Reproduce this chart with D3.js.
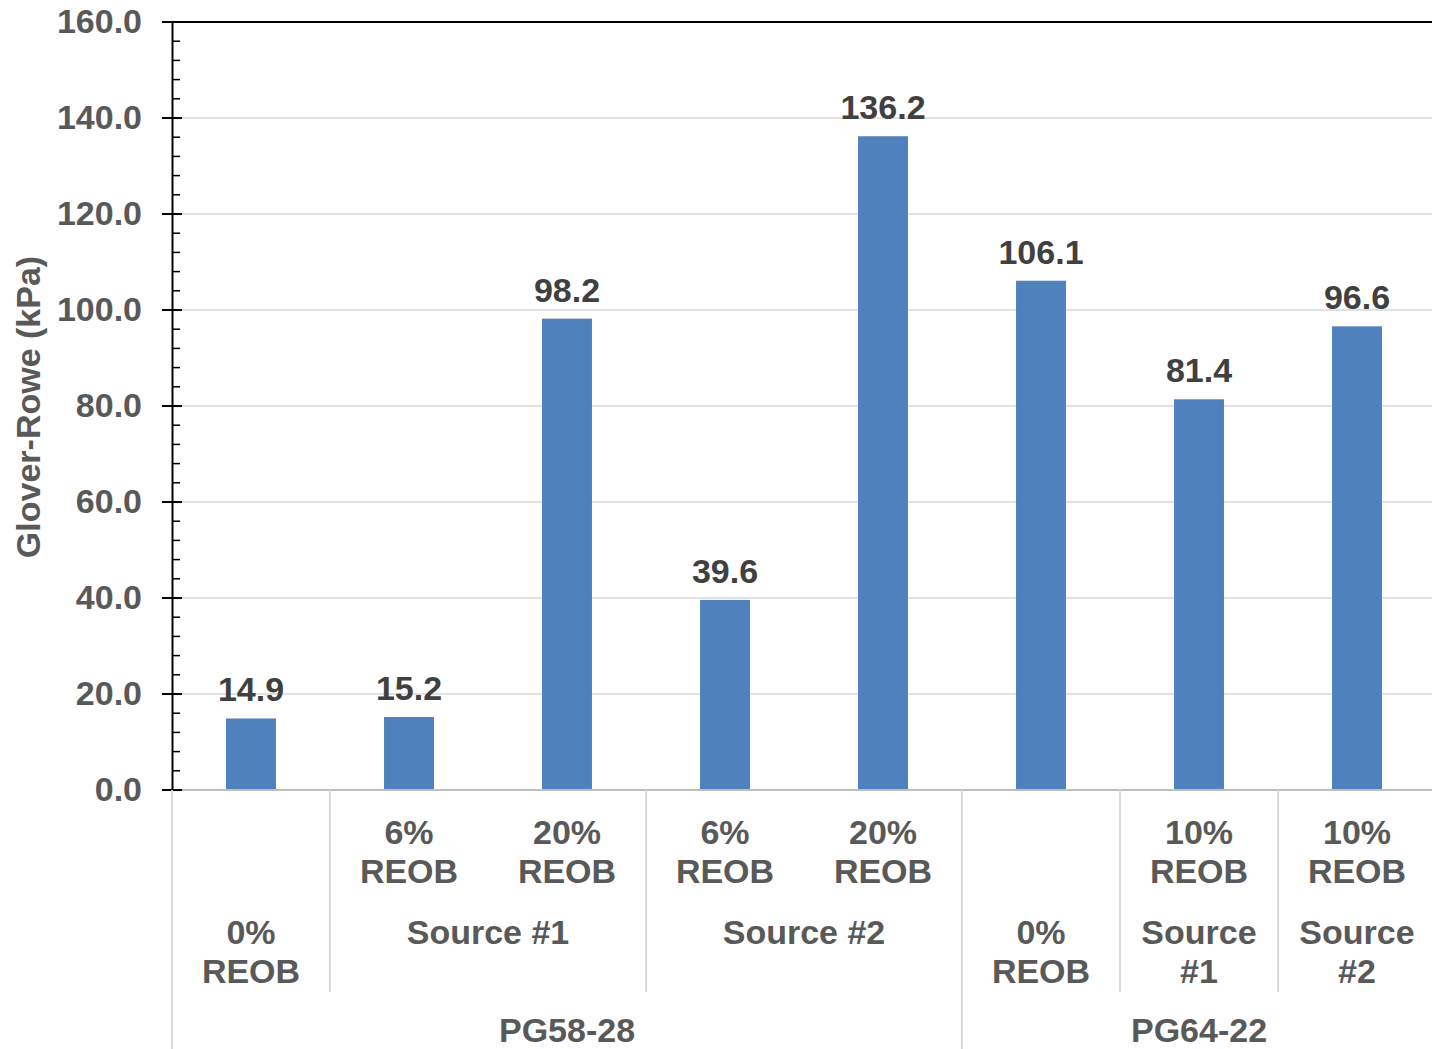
<!DOCTYPE html>
<html>
<head>
<meta charset="utf-8">
<script src="https://cdn.jsdelivr.net/npm/d3@7"></script>
<style>
  html, body { margin: 0; padding: 0; background: #fff; }
  svg { display: block; }
  text { font-family: "Liberation Sans", Arial, sans-serif; font-weight: bold; }
</style>
</head>
<body>
<svg id="chart" width="1432" height="1049"></svg>
<script>
// ---- Data ----
const values = [14.9, 15.2, 98.2, 39.6, 136.2, 106.1, 81.4, 96.6];
const leafLabels = [["", ""], ["6%", "REOB"], ["20%", "REOB"], ["6%", "REOB"], ["20%", "REOB"], ["", ""], ["10%", "REOB"], ["10%", "REOB"]];
const level2Labels = [["0%", "REOB"], ["Source #1"], ["Source #2"], ["0%", "REOB"], ["Source", "#1"], ["Source", "#2"]];
const level2Start = [0, 1, 3, 5, 6, 7];
const level2Span = [1, 2, 2, 1, 1, 1];
const level3Labels = ["PG58-28", "PG64-22"];
const level3Start = [0, 5];
const level3Span = [5, 3];
const yTicks = [0, 20, 40, 60, 80, 100, 120, 140, 160];
const yTitle = "Glover-Rowe (kPa)";

(function () {
// ---- Layout ----
const W = 1432, H = 1049;
const mLeft = 172, mRight = 1436, mTop = 22, mBottom = 790;
const svg = d3.select("#chart");

const x = d3.scaleBand().domain(d3.range(values.length)).range([mLeft, mRight]).padding(0);
const y = d3.scaleLinear().domain([0, 160]).range([mBottom, mTop]);
const step = x.step();
const barW = step * 0.316;
const fs = 34;

// gridlines
svg.append("g").selectAll("line").data(yTicks.filter(d => d > 0 && d < 160)).join("line")
  .attr("x1", mLeft).attr("x2", W).attr("y1", d => y(d)).attr("y2", d => y(d))
  .attr("stroke", "#d9d9d9").attr("stroke-width", 1.3);

// top border
svg.append("line").attr("x1", mLeft - 10).attr("x2", W).attr("y1", y(160)).attr("y2", y(160))
  .attr("stroke", "#000").attr("stroke-width", 2);

// bars
svg.append("g").selectAll("rect").data(values).join("rect")
  .attr("x", (d, i) => x(i) + (step - barW) / 2)
  .attr("width", barW)
  .attr("y", d => y(d))
  .attr("height", d => y(0) - y(d))
  .attr("fill", "#4f81bd");

// data labels
svg.append("g").selectAll("text").data(values).join("text")
  .attr("x", (d, i) => x(i) + step / 2)
  .attr("y", d => y(d) - 17)
  .attr("text-anchor", "middle")
  .attr("font-size", fs)
  .attr("fill", "#404040")
  .text(d => d.toFixed(1));

// baseline
svg.append("line").attr("x1", mLeft).attr("x2", W).attr("y1", y(0)).attr("y2", y(0))
  .attr("stroke", "#bfbfbf").attr("stroke-width", 2);

// y axis
const yAxis = d3.axisLeft(y).tickValues(yTicks).tickFormat(d3.format(".1f")).tickSize(0).tickPadding(30);
const ga = svg.append("g").attr("transform", `translate(${mLeft},0)`).call(yAxis);
ga.select(".domain").attr("stroke", "#000").attr("stroke-width", 2);
ga.selectAll("text").attr("font-size", fs).attr("fill", "#595959")
  .attr("font-family", "'Liberation Sans', Arial, sans-serif").attr("font-weight", "bold");
// major ticks (cross)
svg.append("g").selectAll("line").data(yTicks).join("line")
  .attr("x1", mLeft - 10).attr("x2", mLeft + 10).attr("y1", d => y(d)).attr("y2", d => y(d))
  .attr("stroke", "#000").attr("stroke-width", 2);
// minor ticks (inside)
const minor = d3.range(0, 161, 4).filter(v => v % 20 !== 0);
svg.append("g").selectAll("line").data(minor).join("line")
  .attr("x1", mLeft).attr("x2", mLeft + 8).attr("y1", d => y(d)).attr("y2", d => y(d))
  .attr("stroke", "#000").attr("stroke-width", 1.5);

// y title
svg.append("text")
  .attr("transform", `translate(40,407) rotate(-90)`)
  .attr("text-anchor", "middle")
  .attr("font-size", fs)
  .attr("fill", "#595959")
  .text(yTitle);

// ---- Hierarchical category axis ----
const sepColor = "#d9d9d9";
level2Start.forEach((s, k) => {
  if (k === 0 || level3Start.includes(s)) return;
  svg.append("line").attr("x1", x(s)).attr("x2", x(s)).attr("y1", mBottom).attr("y2", 992)
    .attr("stroke", sepColor).attr("stroke-width", 2);
});
level3Start.forEach(s => {
  svg.append("line").attr("x1", x(s)).attr("x2", x(s)).attr("y1", mBottom).attr("y2", H)
    .attr("stroke", sepColor).attr("stroke-width", 2);
});

const catColor = "#595959";
leafLabels.forEach((lines, i) => {
  lines.forEach((t, j) => {
    if (!t) return;
    svg.append("text").attr("x", x(i) + step / 2).attr("y", 844 + j * 39)
      .attr("text-anchor", "middle").attr("font-size", fs).attr("fill", catColor).text(t);
  });
});
level2Labels.forEach((lines, k) => {
  const cx = x(level2Start[k]) + level2Span[k] * step / 2;
  lines.forEach((t, j) => {
    svg.append("text").attr("x", cx).attr("y", 944 + j * 39)
      .attr("text-anchor", "middle").attr("font-size", fs).attr("fill", catColor).text(t);
  });
});
level3Labels.forEach((t, k) => {
  const cx = x(level3Start[k]) + level3Span[k] * step / 2;
  svg.append("text").attr("x", cx).attr("y", 1042)
    .attr("text-anchor", "middle").attr("font-size", fs).attr("fill", catColor).text(t);
});
})();
</script>
</body>
</html>
